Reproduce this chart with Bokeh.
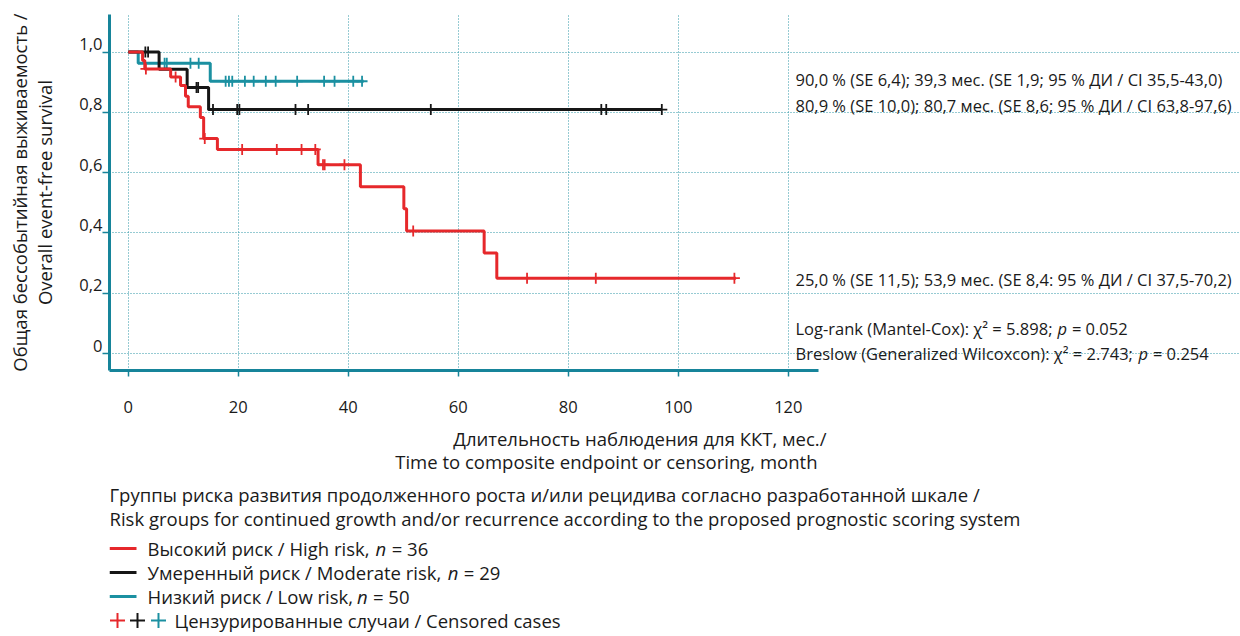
import math
from bokeh.plotting import figure
from bokeh.models import Range1d, FixedTicker, CustomJSTickFormatter, LinearAxis
from bokeh.layouts import column
from bokeh.embed import file_html
from bokeh.resources import INLINE
from bokeh.core.properties import value

# ---------------- data ----------------
x_ticks = [0, 20, 40, 60, 80, 100, 120]
y_ticks = [0.0, 0.2, 0.4, 0.6, 0.8, 1.0]

high_times = [0, 2.6, 3.0, 7.7, 9.5, 10.4, 10.9, 13.1, 13.7, 16.2, 34.5, 42.2, 50.1, 50.6, 64.7, 67.0]
high_surv = [1.0, 0.972, 0.944, 0.917, 0.889, 0.853, 0.818, 0.783, 0.713, 0.677, 0.626, 0.553, 0.480, 0.406, 0.333, 0.250]
high_last = 110.5
high_censored = [3.2, 8.6, 13.9, 20.7, 27.0, 31.5, 34.0, 35.4, 35.7, 39.3, 51.8, 72.5, 85.0, 110.2]

mod_times = [0, 5.6, 10.7, 14.6]
mod_surv = [1.0, 0.943, 0.882, 0.809]
mod_last = 97.0
mod_censored = [3.1, 3.6, 12.4, 12.7, 15.4, 19.8, 20.2, 30.4, 32.7, 55.0, 86.0, 86.9, 97.0]

low_times = [0, 1.8, 14.9]
low_surv = [1.0, 0.963, 0.903]
low_last = 42.8
low_censored = [6.6, 7.0, 11.3, 12.8, 17.7, 18.3, 18.9, 21.2, 22.8, 25.0, 26.8, 30.7, 35.6, 37.5, 40.9, 42.5]

right_notes = [
    "90,0 % (SE 6,4); 39,3 мес. (SE 1,9; 95 % ДИ / CI 35,5-43,0)",
    "80,9 % (SE 10,0); 80,7 мес. (SE 8,6; 95 % ДИ / CI 63,8-97,6)",
    "25,0 % (SE 11,5); 53,9 мес. (SE 8,4: 95 % ДИ / CI 37,5-70,2)",
]
test_notes = [
    ("Log-rank (Mantel-Cox): χ² = 5.898;", "p", "= 0.052"),
    ("Breslow (Generalized Wilcoxcon): χ² = 2.743;", "p", "= 0.254"),
]
y_title = ["Общая бессобытийная выживаемость /", "Overall event-free survival"]
x_title = ["Длительность наблюдения для ККТ, мес./", "Time to composite endpoint or censoring, month"]
legend_title = [
    "Группы риска развития продолженного роста и/или рецидива согласно разработанной шкале /",
    "Risk groups for continued growth and/or recurrence according to the proposed prognostic scoring system",
]
legend_names = ["Высокий риск / High risk,", "Умеренный риск / Moderate risk,", "Низкий риск / Low risk,"]
legend_n = [36, 29, 50]
censored_label = "Цензурированные случаи / Censored cases"

# ---------------- style ----------------
FONT = "Open Sans"
RED = "#e6282b"
BLACK = "#161616"
TEAL = "#1b90a1"
AXIS = "#16849a"
GRID = "#2e96a6"
TXT = "#1a1a1a"

# page-pixel helpers for the chart (frame: left 109, top 14, bottom 370; axis drawn to 818)
X0, XS = 127.8, 5.5
Y0, YS = 353.0, 301.5
def dx(px):
    return (px - X0) / XS
def dy(py):
    return (Y0 - py) / YS

W = {' ': 0.26, '!': 0.27, '%': 0.82, '(': 0.30, ')': 0.30, ',': 0.25, '-': 0.32, '.': 0.27,
     '/': 0.37, ':': 0.27, ';': 0.27, '=': 0.572, '²': 0.37, 'χ': 0.53,
     'A': .63, 'B': .65, 'C': .63, 'D': .73, 'E': .56, 'F': .52, 'G': .73, 'H': .74, 'I': .28,
     'L': .52, 'M': .91, 'N': .76, 'O': .78, 'P': .6, 'R': .62, 'S': .55, 'T': .55, 'W': .93,
     'a': .56, 'b': .61, 'c': .48, 'd': .61, 'e': .56, 'f': .34, 'g': .55, 'h': .61, 'i': .26,
     'k': .52, 'l': .26, 'm': .93, 'n': .61, 'o': .6, 'p': .61, 'r': .41, 's': .48, 't': .35,
     'u': .61, 'v': .5, 'w': .77, 'x': .52, 'y': .5, 'z': .47}
for d in "0123456789":
    W[d] = 0.572
W.update({'ы': .78, 'ш': .89, 'щ': .9, 'ж': .83, 'м': .75, 'ю': .85, 'ф': .8, 'д': .6, 'л': .6,
          'т': .48, 'г': .45, 'з': .5, 'с': .48, 'е': .56, 'о': .6, 'а': .56, 'р': .61, 'у': .5,
          'х': .52, 'к': .52, 'в': .57, 'и': .62, 'й': .62, 'н': .62, 'п': .61, 'б': .6, 'ч': .58,
          'ь': .55, 'я': .58, 'ц': .62, 'э': .51})

def tw(s, size):
    return sum(W.get(c, 0.62) for c in s) * size

def surv_at(t, times, surv):
    v = surv[0]
    for ti, si in zip(times, surv):
        if ti <= t:
            v = si
    return v

# ---------------- main chart ----------------
TOP_H = 424
y_top = dy(14)
y_bot = dy(370)
p = figure(width=1240, height=TOP_H, output_backend="svg", toolbar_location=None,
           x_range=Range1d(dx(109), dx(1240)), y_range=Range1d(y_bot, y_top),
           min_border_left=109, min_border_right=0, min_border_top=14,
           min_border_bottom=TOP_H - 370)
p.background_fill_color = "white"
p.border_fill_color = "white"
p.outline_line_color = None

p.xaxis.ticker = FixedTicker(ticks=x_ticks)
p.yaxis.ticker = FixedTicker(ticks=y_ticks)
p.xaxis.bounds = (dx(109), dx(818))
for ax in (p.xaxis[0], p.yaxis[0]):
    ax.axis_line_color = AXIS
    ax.axis_line_width = 3
    ax.major_tick_line_color = AXIS
    ax.major_tick_line_width = 1.5
    ax.major_tick_in = 0
    ax.minor_tick_line_color = None
    ax.major_label_text_font = FONT
    ax.major_label_text_font_size = "16.5px"
    ax.major_label_text_color = TXT
p.yaxis[0].major_tick_out = 7
p.yaxis[0].major_label_standoff = 0
p.yaxis[0].major_label_text_color = None      # labels come from the label axis below
p.xaxis.major_tick_out = 6
p.xaxis.major_label_standoff = 24

# label axis: same values, labels sit a little above their ticks as in the reference
LAB_SHIFT = 8 / YS
p.extra_y_ranges = {"lab": Range1d(y_bot - LAB_SHIFT, y_top - LAB_SHIFT)}
lab_axis = LinearAxis(y_range_name="lab", ticker=FixedTicker(ticks=y_ticks),
                      formatter=CustomJSTickFormatter(
                          code="return tick == 0 ? '0' : tick.toFixed(1).replace('.', ',');"),
                      axis_line_color=None, major_tick_line_color=None, minor_tick_line_color=None,
                      major_tick_out=0, major_tick_in=0, major_label_standoff=0,
                      major_label_text_font=FONT, major_label_text_font_size="16.5px",
                      major_label_text_color=TXT,
                      axis_label=y_title[0] + "\n" + y_title[1], axis_label_text_font=FONT,
                      axis_label_text_font_size="18.5px", axis_label_text_font_style="normal",
                      axis_label_text_color=TXT, axis_label_text_align="right",
                      axis_label_text_line_height=1.0, axis_label_standoff=19)
p.add_layout(lab_axis, "left")

p.xgrid.ticker = FixedTicker(ticks=x_ticks)
p.ygrid.ticker = FixedTicker(ticks=y_ticks + [y_top])
p.ygrid.bounds = (dx(109), dx(818))
p.grid.grid_line_color = GRID
p.grid.grid_line_dash = "1 2"
p.grid.grid_line_width = 1

groups = [
    (low_times, low_surv, low_last, low_censored, TEAL),
    (mod_times, mod_surv, mod_last, mod_censored, BLACK),
    (high_times, high_surv, high_last, high_censored, RED),
]
for times, surv, last, cens, col in groups:
    p.step(x=times + [last], y=surv + [surv[-1]], mode="after", line_color=col, line_width=3)
    p.scatter(x=cens, y=[surv_at(c, times, surv) for c in cens], marker="cross",
              size=11, line_color=col, line_width=1.8)

NS = 16.5
def ptext(fig, x, y, txt, size, style="normal", align="left"):
    fig.text(x=[x], y=[y], text=[txt], text_font=value(FONT), text_font_size=f"{size}px",
             text_font_style=style, text_align=align, text_baseline="middle", text_color=TXT)

for txt, py in zip(right_notes, [79, 105, 279]):
    ptext(p, dx(795), dy(py), txt, NS)
for (a, b, c), py in zip(test_notes, [328, 353]):
    x0 = 795
    ptext(p, dx(x0), dy(py), a, NS)
    x1 = x0 + tw(a + " ", NS)
    ptext(p, dx(x1), dy(py), b, NS, style="italic")
    ptext(p, dx(x1 + tw(b + " ", NS)), dy(py), c, NS)

# ---------------- lower area: x title + legend ----------------
BOT_H = 636 - TOP_H
q = figure(width=1240, height=BOT_H, output_backend="svg", toolbar_location=None,
           x_range=Range1d(109, 1240), y_range=Range1d(BOT_H, 0),
           min_border_left=109, min_border_right=0, min_border_top=0, min_border_bottom=0,
           x_axis_location=None, y_axis_location=None)
q.grid.visible = False
q.outline_line_color = None
q.background_fill_color = "white"
q.border_fill_color = "white"

def by(py):
    return py - TOP_H

FS = 18.5
ptext(q, 826, by(438), x_title[0], FS, align="right")
ptext(q, 817, by(461), x_title[1], FS, align="right")
ptext(q, 109, by(494), legend_title[0], FS)
ptext(q, 109, by(518), legend_title[1], FS)

row_y = [548, 572, 596]
for name, n, yy, col in zip(legend_names, legend_n, row_y, [RED, BLACK, TEAL]):
    q.line(x=[109, 136], y=[by(yy), by(yy)], line_color=col, line_width=3)
    ptext(q, 147, by(yy), name, FS)
    xn = 147 + tw(name + " ", FS) + 2
    ptext(q, xn, by(yy), "n", FS, style="italic")
    ptext(q, xn + tw("n ", FS), by(yy), f"= {n}", FS)
q.scatter(x=[117, 137, 158], y=[by(620)] * 3, marker="cross", size=15,
          line_color=[RED, BLACK, TEAL], line_width=2)
ptext(q, 174, by(620), censored_label, FS)

layout = column(p, q, spacing=0)
open("out.html", "w").write(file_html(layout, INLINE))
